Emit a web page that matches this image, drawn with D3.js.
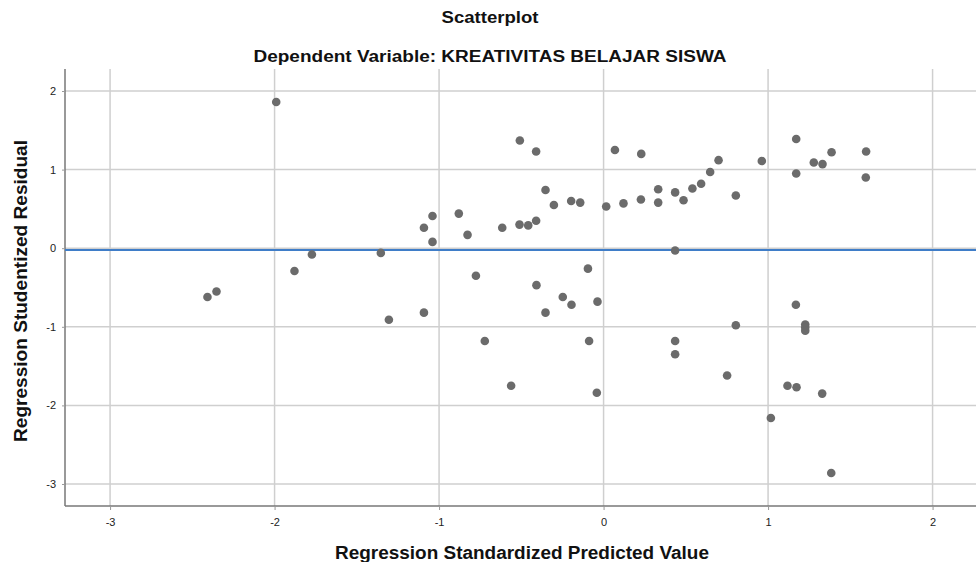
<!DOCTYPE html>
<html>
<head>
<meta charset="utf-8">
<script src="https://cdn.jsdelivr.net/npm/d3@7"></script>
<style>
  body { margin: 0; background: #fff; }
  svg { display: block; font-family: "Liberation Sans", Arial, sans-serif; }
</style>
</head>
<body>
<svg></svg>
<script>
// data
const predicted = [-1.990, -1.773, -1.879, -1.354, -2.408, -2.353, -1.305, -1.092, -1.092, -1.040,
  -1.040, -0.880, -0.827, -0.776, -0.722, -0.616, -0.562, -0.509, -0.511, -0.458,
  -0.410, -0.410, -0.408, -0.353, -0.353, -0.302, -0.248, -0.197, -0.195, -0.142,
  -0.095, -0.088, -0.041, -0.037, 0.016, 0.069, 0.121, 0.227, 0.229, 0.332,
  0.332, 0.435, 0.435, 0.435, 0.435, 0.486, 0.540, 0.593, 0.648, 0.699,
  0.751, 0.804, 0.804, 0.962, 1.017, 1.118, 1.169, 1.171, 1.171, 1.173,
  1.226, 1.226, 1.226, 1.278, 1.331, 1.329, 1.386, 1.384, 1.596, 1.594];
const residual = [1.86, -0.08, -0.29, -0.06, -0.62, -0.55, -0.91, -0.82, 0.26, 0.41,
  0.08, 0.44, 0.17, -0.35, -1.18, 0.26, -1.75, 1.37, 0.30, 0.29,
  1.23, 0.35, -0.47, 0.74, -0.82, 0.55, -0.62, 0.60, -0.72, 0.58,
  -0.26, -1.18, -1.84, -0.68, 0.53, 1.25, 0.57, 0.62, 1.20, 0.75,
  0.58, 0.71, -0.03, -1.18, -1.35, 0.61, 0.76, 0.82, 0.97, 1.12,
  -1.62, 0.67, -0.98, 1.11, -2.16, -1.75, -0.72, 1.39, 0.95, -1.77,
  -0.97, -1.01, -1.05, 1.09, 1.07, -1.85, 1.22, -2.86, 1.23, 0.90];
const xTicks = [-3, -2, -1, 0, 1, 2];
const yTicks = [2, 1, 0, -1, -2, -3];
const fitLevel = -0.023;

const width = 976, height = 562;
const svg = d3.select("svg").attr("width", width).attr("height", height);

const x = d3.scaleLinear().domain([-3.274, 2.264]).range([65, 976]);
const y = d3.scaleLinear().domain([-3.28, 2.28]).range([506, 69]);

// grid
svg.append("g")
  .selectAll("line")
  .data(xTicks)
  .join("line")
  .attr("x1", d => x(d)).attr("x2", d => x(d))
  .attr("y1", 69).attr("y2", 506)
  .attr("stroke", "#cfcfcf").attr("stroke-width", 1.5);

svg.append("g")
  .selectAll("line")
  .data(yTicks)
  .join("line")
  .attr("x1", 65).attr("x2", 976)
  .attr("y1", d => y(d)).attr("y2", d => y(d))
  .attr("stroke", "#cfcfcf").attr("stroke-width", 1.5);

// axes
const xAxis = svg.append("g")
  .attr("transform", "translate(0,506)")
  .call(d3.axisBottom(x).tickValues(xTicks).tickSize(4).tickPadding(8).tickFormat(d => String(d)));
const yAxis = svg.append("g")
  .attr("transform", "translate(65,0)")
  .call(d3.axisLeft(y).tickValues(yTicks).tickSize(3).tickPadding(6).tickFormat(d => String(d)));

[xAxis, yAxis].forEach(g => {
  g.select(".domain").attr("stroke", "#777").attr("stroke-width", 1.5);
  g.selectAll(".tick line").attr("stroke", "#999");
  g.selectAll(".tick text")
    .attr("fill", "#222")
    .style("font-size", "11px")
    .style("font-family", "'Liberation Sans', Arial, sans-serif");
});
yAxis.select(".domain").attr("d", "M0,69V506");
xAxis.select(".domain").attr("d", "M65,0H976");

// fit line
svg.append("line")
  .attr("x1", 65).attr("x2", 976)
  .attr("y1", y(fitLevel)).attr("y2", y(fitLevel))
  .attr("stroke", "#3f7dc8").attr("stroke-width", 2);

// points
svg.append("g")
  .selectAll("circle")
  .data(predicted.map((p, i) => ({ p: p, r: residual[i] })))
  .join("circle")
  .attr("cx", d => x(d.p))
  .attr("cy", d => y(d.r))
  .attr("r", 4.3)
  .attr("fill", "#6b6b6b");

// titles
svg.append("text")
  .attr("x", 490).attr("y", 23)
  .attr("text-anchor", "middle")
  .attr("textLength", 97).attr("lengthAdjust", "spacingAndGlyphs")
  .style("font-size", "16px").style("font-weight", "bold").attr("fill", "#111")
  .text("Scatterplot");

svg.append("text")
  .attr("x", 490).attr("y", 62)
  .attr("text-anchor", "middle")
  .attr("textLength", 473).attr("lengthAdjust", "spacingAndGlyphs")
  .style("font-size", "16px").style("font-weight", "bold").attr("fill", "#111")
  .text("Dependent Variable: KREATIVITAS BELAJAR SISWA");

svg.append("text")
  .attr("x", 522).attr("y", 559)
  .attr("text-anchor", "middle")
  .attr("textLength", 374).attr("lengthAdjust", "spacingAndGlyphs")
  .style("font-size", "18px").style("font-weight", "bold").attr("fill", "#111")
  .text("Regression Standardized Predicted Value");

svg.append("text")
  .attr("transform", "translate(27,291) rotate(-90)")
  .attr("text-anchor", "middle")
  .attr("textLength", 302).attr("lengthAdjust", "spacingAndGlyphs")
  .style("font-size", "18px").style("font-weight", "bold").attr("fill", "#111")
  .text("Regression Studentized Residual");
</script>
</body>
</html>
